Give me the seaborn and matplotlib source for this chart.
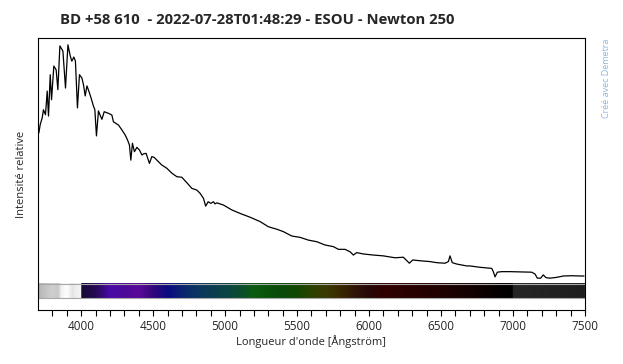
import numpy as np
import pandas as pd
import matplotlib
matplotlib.use("Agg")
import matplotlib.pyplot as plt
from matplotlib.colors import LinearSegmentedColormap
from matplotlib.patches import Rectangle
import seaborn as sns

# ---- data ----
wavelength = [3706, 3715, 3729, 3738, 3752, 3764, 3773, 3785, 3794, 3810, 3826, 3838,
              3852, 3873, 3891, 3908, 3924, 3935, 3949, 3960, 3974, 3988, 4005, 4016,
              4028, 4040, 4053, 4069, 4085, 4095, 4106, 4120, 4134, 4144, 4160, 4190,
              4213, 4224, 4259, 4283, 4306, 4322, 4335, 4345, 4356, 4370, 4387, 4405,
              4422, 4433, 4451, 4474, 4491, 4507, 4526, 4560, 4595, 4630, 4665, 4699,
              4734, 4769, 4803, 4826, 4849, 4865, 4882, 4901, 4919, 4930, 4942, 4988,
              5046, 5104, 5174, 5243, 5301, 5359, 5405, 5463, 5521, 5578, 5637, 5694,
              5752, 5787, 5833, 5868, 5891, 5914, 5960, 6030, 6099, 6180, 6238, 6257,
              6280, 6303, 6354, 6423, 6470, 6528, 6551, 6562, 6578, 6609, 6678, 6701,
              6771, 6852, 6863, 6875, 6891, 6921, 6979, 7048, 7130, 7153, 7169, 7192,
              7210, 7229, 7257, 7303, 7349, 7407, 7465, 7493]
intensity = [0.651, 0.681, 0.706, 0.736, 0.718, 0.805, 0.713, 0.865, 0.773, 0.897, 0.883, 0.810,
             0.971, 0.952, 0.816, 0.975, 0.934, 0.915, 0.930, 0.915, 0.743, 0.865, 0.853, 0.828,
             0.787, 0.824, 0.805, 0.779, 0.750, 0.736, 0.640, 0.732, 0.713, 0.701, 0.729, 0.723,
             0.717, 0.692, 0.680, 0.662, 0.643, 0.625, 0.607, 0.551, 0.613, 0.582, 0.598, 0.588,
             0.570, 0.574, 0.576, 0.539, 0.564, 0.561, 0.551, 0.533, 0.521, 0.503, 0.490, 0.488,
             0.468, 0.447, 0.441, 0.429, 0.411, 0.382, 0.398, 0.392, 0.398, 0.390, 0.394, 0.386,
             0.368, 0.355, 0.341, 0.325, 0.306, 0.297, 0.288, 0.272, 0.267, 0.257, 0.251, 0.239,
             0.233, 0.223, 0.223, 0.214, 0.202, 0.211, 0.206, 0.202, 0.199, 0.192, 0.194, 0.184,
             0.172, 0.184, 0.181, 0.178, 0.174, 0.172, 0.178, 0.199, 0.174, 0.169, 0.162, 0.162,
             0.157, 0.153, 0.141, 0.122, 0.139, 0.141, 0.141, 0.140, 0.139, 0.132, 0.117, 0.117,
             0.129, 0.119, 0.117, 0.120, 0.125, 0.126, 0.125, 0.125]

# synthetic colour strip: wavelength stops and colours
strip_wl = [3700, 3750, 3800, 3840, 3860, 3900, 3940, 3960, 3999,
            4000, 4100, 4200, 4300, 4400, 4500, 4600, 4700, 4800, 4900, 5000,
            5100, 5200, 5300, 5400, 5500, 5600, 5700, 5800, 5900, 6000, 6100,
            6300, 6500, 6700, 6900, 6999, 7000, 7500]
strip_col = ["#b4b4b4", "#c4c4c4", "#cfcfcf", "#c8c8c8", "#f2f2f2", "#ffffff", "#e2e2e2", "#eeeeee", "#f4f4f4",
             "#180a34", "#250a55", "#4a0aa8", "#4c0a98", "#5a0a98", "#32087c", "#0a0a82", "#0a2270", "#0a3462", "#0a3c52", "#0a4444",
             "#0a4c30", "#0a5c10", "#0a520a", "#0a4a08", "#104800", "#2c4200", "#3a3a00", "#3a2800", "#301408", "#280808", "#300000",
             "#280000", "#200000", "#140000", "#050000", "#000000", "#262626", "#1e1e1e"]

x_ticks = [4000, 4500, 5000, 5500, 6000, 6500, 7000, 7500]
title = "BD +58 610  - 2022-07-28T01:48:29 - ESOU - Newton 250"

df = pd.DataFrame({"wavelength": wavelength, "intensity": intensity})

sns.set_style("white")
plt.rcParams["font.family"] = ["Open Sans", "DejaVu Sans"]

fig = plt.figure(figsize=(6.23, 3.64), dpi=100)
ax = fig.add_axes([38 / 623, 1 - 310 / 364, (585 - 38) / 623, (310 - 38) / 364])

sns.lineplot(data=df, x="wavelength", y="intensity", ax=ax, color="black",
             linewidth=0.9, estimator=None, sort=False)

# colour strip
pos = [(w - strip_wl[0]) / (strip_wl[-1] - strip_wl[0]) for w in strip_wl]
cmap = LinearSegmentedColormap.from_list("strip", list(zip(pos, strip_col)), N=1024)
grad = np.linspace(0, 1, 1024).reshape(1, -1)
y0, y1 = 0.043, 0.097
ax.imshow(grad, cmap=cmap, aspect="auto", extent=[strip_wl[0], strip_wl[-1], y0, y1],
          interpolation="bilinear", zorder=1)
ax.add_patch(Rectangle((strip_wl[0], y0), strip_wl[-1] - strip_wl[0], y1 - y0,
                       fill=False, edgecolor="#a8a8a8", linewidth=0.8, zorder=2))

ax.set_xlim(3700, 7500)
ax.set_ylim(0, 1)
ax.set_xticks(x_ticks)
ax.set_xticks(np.arange(3800, 7500, 100), minor=True)
ax.set_yticks([])
ax.tick_params(axis="x", which="both", bottom=True, direction="out", length=4,
               width=0.8, color="black", labelsize=8.5, pad=3)
for s in ax.spines.values():
    s.set_visible(True)
    s.set_color("black")
    s.set_linewidth(0.8)

ax.set_xlabel("Longueur d'onde [Ångström]", fontsize=8, labelpad=2)
ax.set_ylabel("Intensité relative", fontsize=8, labelpad=8)
fig.text(0.413, 0.945, title, fontsize=10.7, fontweight="bold", ha="center", va="center")
fig.text(0.973, 0.895, "Créé avec Demetra", rotation=90, fontsize=6.5,
         color="#8fb5da", ha="center", va="top")

fig.savefig("out.png", dpi=100)
